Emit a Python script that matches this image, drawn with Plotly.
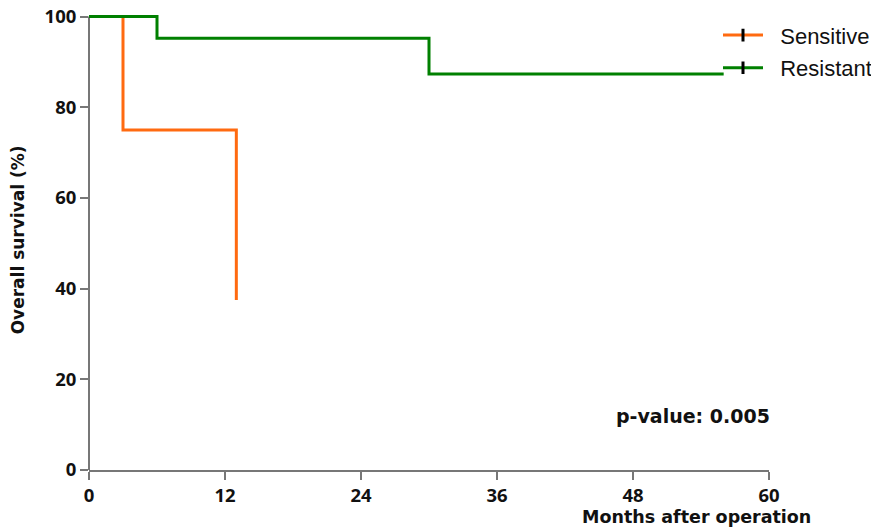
import plotly.graph_objects as go

# Kaplan-Meier step data (months, survival %)
sens_time = [0, 3, 13]
sens_surv = [100, 75, 37.5]
res_time = [0, 6, 30, 56]
res_surv = [100, 95.2, 87.3, 87.3]

x_ticks = [0, 12, 24, 36, 48, 60]
y_ticks = [0, 20, 40, 60, 80, 100]

ORANGE = "#FF6A10"
GREEN = "#008000"
AXIS = "#777777"
YMAX = 101

fig = go.Figure()
fig.add_trace(go.Scatter(x=sens_time, y=sens_surv, mode="lines", line_shape="hv",
                         line=dict(color=ORANGE, width=3), showlegend=False))
fig.add_trace(go.Scatter(x=res_time, y=res_surv, mode="lines", line_shape="hv",
                         line=dict(color=GREEN, width=3), showlegend=False))
# legend entries with censor tick
for name, col in [("Sensitive", ORANGE), ("Resistant", GREEN)]:
    fig.add_trace(go.Scatter(x=[None], y=[None], mode="lines+markers", name="\u00a0\u00a0" + name,
                             legendgroup=name,
                             line=dict(color=col, width=3),
                             marker=dict(symbol="line-ns", size=9, color="black",
                                         line=dict(color="black", width=3))))

TITLE_FONT = dict(family="DejaVu Sans, sans-serif", size=17, color="#111", weight="bold")
TICK_FONT = dict(family="Noto Sans, sans-serif", size=18.5, color="#111", weight="bold")

# page body adds an 8px offset, so the figure is sized to fit the 879x531 window
fig.update_layout(
    width=871, height=523,
    margin=dict(l=81, r=110, t=4, b=61, autoexpand=False),
    plot_bgcolor="white", paper_bgcolor="white",
    showlegend=True,
    legend=dict(x=0.925, xanchor="left", y=0.995, yanchor="top",
                font=dict(family="Liberation Sans, Arial, sans-serif", size=22, color="#111"),
                bgcolor="rgba(0,0,0,0)", tracegroupgap=1, itemwidth=40),
    xaxis=dict(range=[0, 60], tickvals=x_ticks, ticktext=[str(v) for v in x_ticks],
               showline=True, linecolor=AXIS, linewidth=2, ticks="outside", automargin=False,
               ticklen=8, tickwidth=2, tickcolor=AXIS, showgrid=False, zeroline=False,
               ticklabeloverflow="allow", tickfont=TICK_FONT),
    yaxis=dict(range=[0, YMAX], tickvals=y_ticks, ticktext=[str(v) for v in y_ticks],
               showline=False, ticks="outside", automargin=False,
               ticklen=8, tickwidth=2, tickcolor=AXIS, showgrid=False, zeroline=False,
               ticklabeloverflow="allow", tickfont=TICK_FONT),
    shapes=[dict(type="line", xref="paper", yref="paper", x0=0, x1=0, y0=0, y1=100 / YMAX,
                 line=dict(color=AXIS, width=2), layer="below")],
    annotations=[
        dict(text="Overall survival (%)", xref="paper", yref="paper", x=-0.104, y=0.502,
             textangle=-90, showarrow=False, xanchor="center", yanchor="middle",
             font=TITLE_FONT),
        dict(text="Months after operation", xref="paper", yref="paper", x=0.893, y=-0.1026,
             showarrow=False, xanchor="center", yanchor="middle",
             font=dict(TITLE_FONT, size=17.5)),
        dict(text="p-value: 0.005", xref="x", yref="y", x=53.3, y=12,
             showarrow=False, xanchor="center", yanchor="middle",
             font=dict(family="DejaVu Sans, sans-serif", size=19, color="#111", weight="bold")),
    ],
)

fig.write_html("out.html")
